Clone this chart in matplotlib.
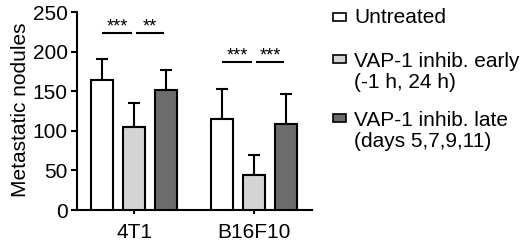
import matplotlib
matplotlib.use("Agg")
import matplotlib.pyplot as plt
from matplotlib.patches import Rectangle
import numpy as np

plt.rcParams['font.family'] = ['Liberation Sans', 'DejaVu Sans']

# data
groups = ['4T1', 'B16F10']
series = ['Untreated', 'VAP-1 inhib. early', 'VAP-1 inhib. late']
series_sub = ['', '(-1 h, 24 h)', '(days 5,7,9,11)']
means = [[164, 115],   # untreated
         [105, 44],    # early
         [152, 108]]   # late
errs = [[27, 38],
        [30, 25],
        [25, 38]]
colors = ['white', '#d4d4d4', '#6c6c6c']
# significance brackets: (group, from series, to series, label, height)
sig = [(0, 0, 1, '***', 223), (0, 1, 2, '**', 223),
       (1, 0, 1, '***', 187), (1, 1, 2, '***', 187)]

W, H = 520, 240
FS = 15
fig = plt.figure(figsize=(W / 100, H / 100), dpi=100)
ax = fig.add_axes([77 / W, 1 - 210 / H, 235 / W, 198 / H])

x = np.arange(len(groups))
width = 0.183
step = 0.265
for i in range(3):
    xs = x + (i - 1) * step
    ax.bar(xs, means[i], width, color=colors[i], edgecolor='black',
           linewidth=1.5, zorder=3)
    ax.errorbar(xs, means[i], yerr=[np.zeros(len(groups)), errs[i]],
                fmt='none', ecolor='black', elinewidth=1.5, capsize=4.3,
                capthick=1.5, zorder=2)

for g, a, b, lab, h in sig:
    x0 = g + (a - 1) * step
    x1 = g + (b - 1) * step
    gap = 0.015
    xa = x0 if a == 0 else x0 + gap
    xb = x1 - gap
    ax.plot([xa, xb], [h, h], color='black', lw=1.5, solid_capstyle='butt')
    ax.text((xa + xb) / 2, h - 3, lab, ha='center', va='bottom', fontsize=13)

ax.set_xlim(-0.475, 1.483)
ax.set_ylim(0, 250)
ax.set_yticks([0, 50, 100, 150, 200, 250])
ax.set_xticks(x)
ax.set_xticklabels(groups)
for s in ['top', 'right']:
    ax.spines[s].set_visible(False)
for s in ['left', 'bottom']:
    ax.spines[s].set_linewidth(1.5)
ax.tick_params(axis='y', length=4.3, width=1.5, pad=2.5, labelsize=FS)
ax.tick_params(axis='x', length=3, width=1.5, pad=6, labelsize=FS)
ax.set_ylabel('Metastatic nodules', fontsize=FS)
ax.yaxis.set_label_coords(-0.2, 0.505)

# legend drawn by hand
box_y = [13, 55, 114]
base_y = [23, 67, 126]
for i in range(3):
    fig.add_artist(Rectangle((333 / W, 1 - (box_y[i] + 8) / H), 13 / W, 8 / H,
                             transform=fig.transFigure, facecolor=colors[i],
                             edgecolor='black', linewidth=1.2))
    fig.text(354 / W, 1 - base_y[i] / H, series[i], fontsize=FS,
             va='baseline', ha='left')
    if series_sub[i]:
        fig.text(354 / W, 1 - (base_y[i] + 21) / H, series_sub[i],
                 fontsize=FS, va='baseline', ha='left')

fig.savefig('out.png', dpi=100)
